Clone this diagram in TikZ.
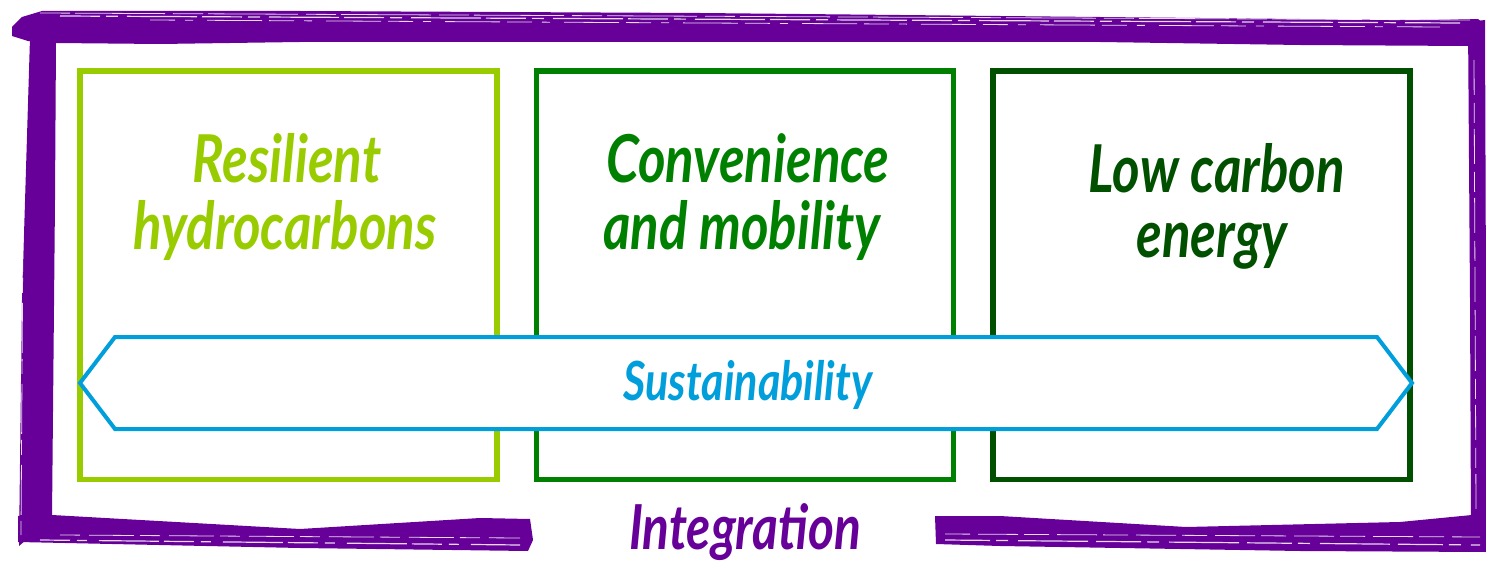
\documentclass[tikz,border=0pt]{standalone}
\usepackage{fontspec}
\newfontfamily\brush[FakeStretch=0.80]{Lato}
\definecolor{frame}{RGB}{102,0,153}
\definecolor{lime}{RGB}{153,204,0}
\definecolor{mid}{RGB}{0,128,0}
\definecolor{deep}{RGB}{0,80,0}
\definecolor{sky}{RGB}{0,158,219}
\tikzset{
  pillar/.style={draw=#1, line width=5.5pt, minimum width=417pt, minimum height=408.5pt, inner sep=0pt},
  label/.style={text=#1, anchor=base, inner sep=0pt, font=\brush\bfseries\itshape\fontsize{66}{66}\selectfont},
  streak/.style={white, line width=1.2pt, opacity=0.85}
}
\begin{document}
\begin{tikzpicture}[x=1pt,y=-1pt]
\useasboundingbox (0,0) rectangle (1486,564);

% brush-stroke frame
\fill[frame] (12,27) -- (22,17) -- (42,11) -- (300,11) -- (700,13) -- (1100,17) -- (1400,20) -- (1478,19) -- (1484,24)
  -- (1470,46) -- (1300,45) -- (1100,42) -- (700,42) -- (300,42) -- (160,44) -- (55,43) -- (28,41) -- (12,36) -- cycle;
\fill[frame] (30,38) -- (56,40) -- (55,200) -- (52,518) -- (19,546) -- (22,300) -- cycle;
\fill[frame] (18,516) -- (52,515) -- (300,529) -- (480,518) -- (530,519) -- (533,540) -- (528,551) -- (300,548) -- (18,542) -- cycle;
\fill[frame] (935,516) -- (1000,516) -- (1186,527) -- (1400,522) -- (1472,515) -- (1486,512) -- (1486,552) -- (1300,551) -- (1000,546) -- (936,544) -- cycle;
\fill[frame] (1468,22) -- (1485,20) -- (1486,300) -- (1486,530) -- (1471,530) -- (1470,300) -- cycle;

% dry-brush texture
\draw[streak, dash pattern=on 40pt off 6pt on 12pt off 9pt on 70pt off 5pt] (60,16) -- (1460,23);
\draw[streak, line width=0.8pt, dash pattern=on 25pt off 10pt on 8pt off 14pt on 55pt off 7pt] (150,20) -- (1440,27);
\draw[streak, line width=0.8pt, dash pattern=on 30pt off 5pt on 90pt off 8pt] (40,13) -- (1470,20);
\draw[streak, line width=0.8pt, dash pattern=on 50pt off 6pt on 15pt off 10pt] (24,60) -- (21,535);
\draw[streak, line width=0.8pt, dash pattern=on 35pt off 8pt on 20pt off 6pt] (1474,60) -- (1476,510);
\draw[streak, dash pattern=on 30pt off 7pt on 10pt off 12pt on 60pt off 5pt] (40,540) -- (520,545);
\draw[streak, line width=0.8pt, dash pattern=on 20pt off 9pt on 45pt off 6pt] (60,535) -- (520,538);
\draw[streak, dash pattern=on 45pt off 6pt on 12pt off 10pt on 70pt off 8pt] (945,540) -- (1480,545);
\draw[streak, line width=0.8pt, dash pattern=on 25pt off 8pt on 40pt off 6pt] (945,534) -- (1480,537);

% the three pillars
\node[pillar=lime] (p1) at (288.5,275.25) {};
\node[pillar=mid]  (p2) at (745.0,275.25) {};
\node[pillar=deep] (p3) at (1201.5,275.25) {};

% sustainability banner
\coordinate (bl) at (80,383);
\coordinate (br) at (1412,383);
\draw[sky, fill=white, line width=4pt, line join=miter]
  (bl) -- (115,337) -- (1377,337) -- (br) -- (1377,429) -- (115,429) -- cycle;

% captions
\node[label=lime] (t1a) at (287,183) {Resilient};
\node[label=lime] (t1b) at (285,250) {hydrocarbons};
\node[label=mid]  (t2a) at (748,183) {Convenience};
\node[label=mid]  (t2b) at (742,250) {and mobility};
\node[label=deep] (t3a) at (1217,193) {Low carbon};
\node[label=deep] (t3b) at (1212,258) {energy};
\node[label=sky, font=\brush\bfseries\itshape\fontsize{54}{54}\selectfont] (ts) at (748,400) {Sustainability};
\node[label=frame, font=\brush\bfseries\itshape\fontsize{62}{62}\selectfont] (ti) at (745,549) {Integration};
\end{tikzpicture}
\end{document}
